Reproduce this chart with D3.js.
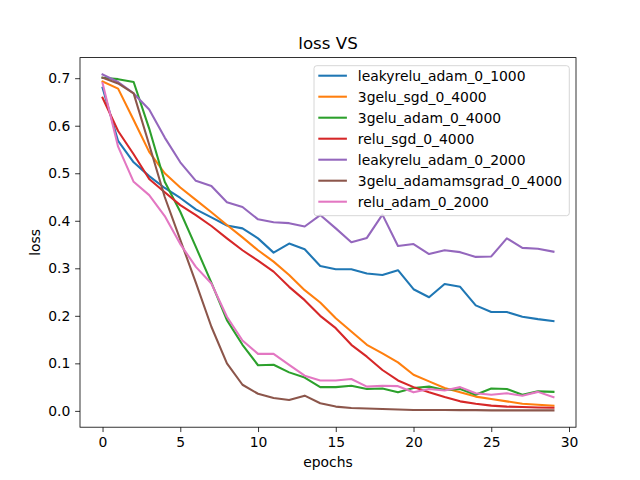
<!DOCTYPE html>
<html>
<head>
<meta charset="utf-8">
<script src="https://cdn.jsdelivr.net/npm/d3@7"></script>
<style>
  body { margin: 0; background: #fff; }
  svg { font-family: "DejaVu Sans", sans-serif; }
</style>
</head>
<body>
<svg id="chart" width="640" height="480"></svg>
<script>
// epochs 0..29
var epochs = d3.range(0, 30);

var seriesNames = ["leakyrelu_adam_0_1000", "3gelu_sgd_0_4000", "3gelu_adam_0_4000",
                   "relu_sgd_0_4000", "leakyrelu_adam_0_2000", "3gelu_adamamsgrad_0_4000",
                   "relu_adam_0_2000"];

var leakyreluAdam1000 = [0.680, 0.568, 0.523, 0.494, 0.469, 0.448, 0.424, 0.407, 0.390, 0.384,
                         0.363, 0.333, 0.352, 0.340, 0.305, 0.298, 0.298, 0.289, 0.286, 0.296,
                         0.256, 0.239, 0.267, 0.261, 0.222, 0.208, 0.208, 0.198, 0.193, 0.189];
var gelu3Sgd4000 = [0.693, 0.678, 0.612, 0.545, 0.500, 0.470, 0.444, 0.418, 0.391, 0.365,
                    0.338, 0.314, 0.286, 0.254, 0.228, 0.195, 0.167, 0.139, 0.121, 0.102,
                    0.076, 0.062, 0.048, 0.039, 0.030, 0.025, 0.020, 0.015, 0.013, 0.011];
var gelu3Adam4000 = [0.701, 0.698, 0.692, 0.594, 0.482, 0.419, 0.345, 0.270, 0.191, 0.139,
                     0.096, 0.097, 0.081, 0.070, 0.050, 0.050, 0.053, 0.046, 0.047, 0.039,
                     0.048, 0.051, 0.044, 0.046, 0.034, 0.047, 0.046, 0.034, 0.041, 0.040];
var reluSgd4000 = [0.659, 0.589, 0.540, 0.488, 0.460, 0.433, 0.412, 0.389, 0.363, 0.338,
                   0.316, 0.293, 0.261, 0.233, 0.200, 0.174, 0.139, 0.114, 0.086, 0.064,
                   0.050, 0.039, 0.029, 0.020, 0.015, 0.011, 0.009, 0.008, 0.007, 0.0065];
var leakyreluAdam2000 = [0.708, 0.692, 0.668, 0.634, 0.575, 0.523, 0.484, 0.473, 0.439, 0.429,
                         0.403, 0.397, 0.395, 0.388, 0.412, 0.384, 0.355, 0.364, 0.413, 0.347,
                         0.351, 0.330, 0.338, 0.334, 0.324, 0.325, 0.363, 0.343, 0.341, 0.335];
var gelu3Adamamsgrad4000 = [0.701, 0.689, 0.668, 0.560, 0.450, 0.360, 0.270, 0.177, 0.100, 0.055,
                            0.036, 0.027, 0.023, 0.032, 0.016, 0.009, 0.006, 0.005, 0.004, 0.003,
                            0.002, 0.002, 0.002, 0.0015, 0.0015, 0.001, 0.001, 0.001, 0.001, 0.001];
var reluAdam2000 = [0.690, 0.556, 0.482, 0.454, 0.410, 0.351, 0.303, 0.268, 0.198, 0.148,
                    0.120, 0.120, 0.097, 0.074, 0.064, 0.064, 0.067, 0.051, 0.053, 0.052,
                    0.039, 0.046, 0.043, 0.050, 0.037, 0.034, 0.037, 0.032, 0.040, 0.029];

var xTicks = [0, 5, 10, 15, 20, 25, 30];
var yTicks = [0.0, 0.1, 0.2, 0.3, 0.4, 0.5, 0.6, 0.7];

var allSeries = [leakyreluAdam1000, gelu3Sgd4000, gelu3Adam4000, reluSgd4000,
                 leakyreluAdam2000, gelu3Adamamsgrad4000, reluAdam2000];
var colors = ["#1f77b4", "#ff7f0e", "#2ca02c", "#d62728", "#9467bd", "#8c564b", "#e377c2"];

// plot area (matplotlib default subplot params at 640x480)
var plotL = 80, plotR = 576, plotT = 57.6, plotB = 427.2;

var svg = d3.select("#chart");

// matplotlib style 5% margins
var xMin = d3.min(epochs), xMax = d3.max(epochs);
var xPad = (xMax - xMin) * 0.05;
var yMin = d3.min(allSeries, s => d3.min(s)), yMax = d3.max(allSeries, s => d3.max(s));
var yPad = (yMax - yMin) * 0.05;

var x = d3.scaleLinear().domain([xMin - xPad, xMax + xPad]).range([plotL, plotR]);
var y = d3.scaleLinear().domain([yMin - yPad, yMax + yPad]).range([plotB, plotT]);

var tickLen = 4.86;

var xAxis = svg.append("g")
    .attr("transform", "translate(0," + plotB + ")")
    .call(d3.axisBottom(x).tickValues(xTicks).tickFormat(d3.format("d"))
          .tickSize(tickLen).tickPadding(4.86).tickSizeOuter(0));
var yAxis = svg.append("g")
    .attr("transform", "translate(" + plotL + ",0)")
    .call(d3.axisLeft(y).tickValues(yTicks).tickFormat(d3.format(".1f"))
          .tickSize(tickLen).tickPadding(4.86).tickSizeOuter(0));

[xAxis, yAxis].forEach(function(g) {
  g.select(".domain").remove();
  g.selectAll(".tick line").attr("stroke", "#000").attr("stroke-width", 0.8);
  g.selectAll(".tick text").attr("fill", "#000").attr("font-size", "13.9px")
    .attr("font-family", "DejaVu Sans");
});

var line = d3.line()
    .x((d, i) => x(epochs[i]))
    .y(d => y(d));

svg.append("g")
  .selectAll("path")
  .data(allSeries)
  .join("path")
    .attr("d", line)
    .attr("fill", "none")
    .attr("stroke", (d, i) => colors[i])
    .attr("stroke-width", 2.08)
    .attr("stroke-linejoin", "round")
    .attr("stroke-linecap", "square");

// axes frame
svg.append("rect")
    .attr("x", plotL).attr("y", plotT)
    .attr("width", plotR - plotL).attr("height", plotB - plotT)
    .attr("fill", "none").attr("stroke", "#000").attr("stroke-width", 0.8);

svg.append("text")
    .attr("x", (plotL + plotR) / 2).attr("y", plotT - 8.5)
    .attr("text-anchor", "middle")
    .attr("font-size", "16.67px")
    .text("loss VS");

svg.append("text")
    .attr("x", (plotL + plotR) / 2).attr("y", 467)
    .attr("text-anchor", "middle")
    .attr("font-size", "13.9px")
    .text("epochs");

svg.append("text")
    .attr("transform", "translate(40," + (plotT + plotB) / 2 + ") rotate(-90)")
    .attr("text-anchor", "middle")
    .attr("font-size", "13.9px")
    .text("loss");

// legend
var legend = svg.append("g");
legend.append("rect")
    .attr("x", 314).attr("y", 65.7)
    .attr("width", 255.3).attr("height", 150)
    .attr("rx", 2.8).attr("ry", 2.8)
    .attr("fill", "#fff").attr("fill-opacity", 0.8)
    .attr("stroke", "#cccccc").attr("stroke-width", 0.8);

var items = legend.selectAll("g.item")
  .data(seriesNames)
  .join("g")
    .attr("class", "item")
    .attr("transform", (d, i) => "translate(0," + (75.7 + i * 21) + ")");

items.append("line")
    .attr("x1", 318.3).attr("x2", 346.9)
    .attr("y1", 0).attr("y2", 0)
    .attr("stroke", (d, i) => colors[i])
    .attr("stroke-width", 2.08);

items.append("text")
    .attr("x", 357.8).attr("y", 0)
    .attr("dy", "0.35em")
    .attr("font-size", "13.9px")
    .text(d => d);
</script>
</body>
</html>
